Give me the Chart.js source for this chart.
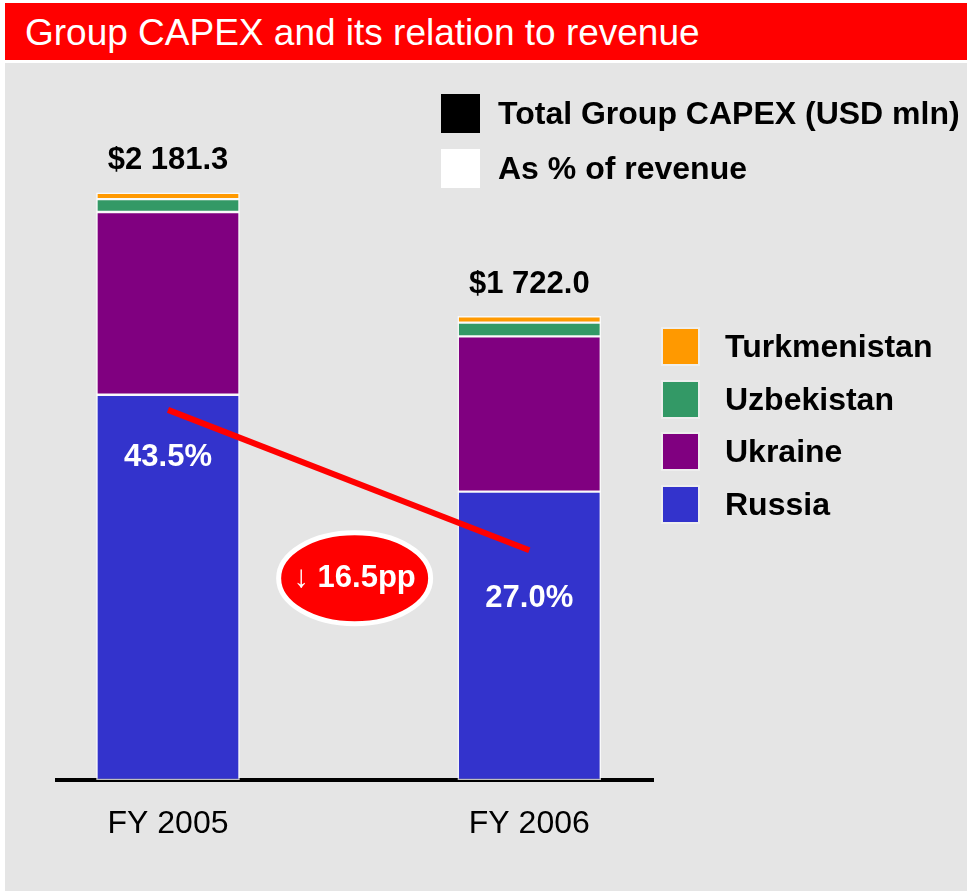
<!DOCTYPE html>
<html>
<head>
<meta charset="utf-8">
<script src="https://cdn.jsdelivr.net/npm/chart.js@4"></script>
<style>
	body { margin: 0; background: #fff; font-family: "Liberation Sans", Arial, sans-serif; }
	#wrap { position: relative; width: 967px; height: 891px; overflow: hidden; }
	#grafico { position: absolute; left: 0; top: 0; }
	.titulo { position: absolute; left: 5px; top: 3px; width: 962px; height: 57px; background: #ff0000;
		color: #fff; font-size: 37px; line-height: 37px; }
	.titulo span { position: absolute; left: 20px; top: 11px; white-space: nowrap; }
	.leg { position: absolute; display: flex; align-items: center; font-weight: bold; font-size: 32px; color: #000; white-space: nowrap; }
	.leg i { display: inline-block; flex: none; }
</style>
</head>
<body>
<div id="wrap">
	<canvas id="grafico" width="967" height="891"></canvas>
	<div class="titulo"><span>Group CAPEX and its relation to revenue</span></div>
	<div id="legendaTopo"></div>
	<div id="legendaPaises"></div>
</div>
<script>
const categories = ['FY 2005', 'FY 2006'];
const russia = [1431.0, 1071.0];
const ukraine = [679.0, 577.0];
const uzbekistan = [48.0, 51.0];
const turkmenistan = [23.3, 23.0];
const capexTotal = [2181.3, 1722.0];
const capexPctRevenue = [43.5, 27.0];

const FONTE = '"Liberation Sans", Arial, sans-serif';

document.addEventListener('DOMContentLoaded', function () {
	const ctx = document.getElementById('grafico').getContext('2d');

	const paises = [
		{ label: 'Russia', data: russia, cor: '#3333cc' },
		{ label: 'Ukraine', data: ukraine, cor: '#800080' },
		{ label: 'Uzbekistan', data: uzbekistan, cor: '#339966' },
		{ label: 'Turkmenistan', data: turkmenistan, cor: '#ff9900' },
	];

	// legendas em html
	const topo = document.getElementById('legendaTopo');
	[['Total Group CAPEX (USD mln)', '#000', 94], ['As % of revenue', '#fff', 149]].forEach(function (l) {
		const d = document.createElement('div');
		d.className = 'leg';
		d.style.left = '441px';
		d.style.top = l[2] + 'px';
		d.innerHTML = '<i style="width:39px;height:39px;background:' + l[1] + ';margin-right:18px"></i><span>' + l[0] + '</span>';
		topo.appendChild(d);
	});
	const leg = document.getElementById('legendaPaises');
	paises.slice().reverse().forEach(function (p, i) {
		const d = document.createElement('div');
		d.className = 'leg';
		d.style.left = '663px';
		d.style.top = (328 + i * 52.7) + 'px';
		d.innerHTML = '<i style="width:35px;height:35px;background:' + p.cor + ';box-shadow:0 0 0 2px rgba(255,255,255,0.35);margin-right:27px"></i><span>' + p.label + '</span>';
		leg.appendChild(d);
	});

	const fundo = {
		id: 'fundo',
		beforeDraw(chart) {
			const c = chart.ctx;
			c.save();
			c.fillStyle = '#ffffff';
			c.fillRect(0, 0, chart.width, chart.height);
			c.fillStyle = '#e5e5e5';
			c.fillRect(5, 63, chart.width - 5, chart.height - 63);
			c.restore();
		},
	};

	function formata(v) {
		return '$' + v.toFixed(1).replace(/\B(?=(\d{3})+(?!\d))/g, ' ');
	}

	const rotulos = {
		id: 'rotulos',
		afterDatasetsDraw(chart) {
			const c = chart.ctx;
			const x = chart.scales.x, y = chart.scales.y, y2 = chart.scales.y2;
			c.save();
			c.textAlign = 'center';
			c.textBaseline = 'middle';
			c.font = 'bold 31px ' + FONTE;
			capexTotal.forEach(function (t, i) {
				c.fillStyle = '#000';
				c.fillText(formata(t), x.getPixelForValue(i), y.getPixelForValue(t) - 32);
			});
			capexPctRevenue.forEach(function (p, i) {
				c.fillStyle = '#fff';
				c.fillText(p.toFixed(1) + '%', x.getPixelForValue(i), y2.getPixelForValue(p) + 48);
			});

			// selo com a queda
			const cx = (x.getPixelForValue(0) + x.getPixelForValue(1)) / 2 + 6;
			const cy = y2.getPixelForValue(capexPctRevenue[1]) + 28;
			c.beginPath();
			c.ellipse(cx, cy, 76, 45.5, 0, 0, Math.PI * 2);
			c.fillStyle = '#ff0000';
			c.fill();
			c.lineWidth = 5;
			c.strokeStyle = '#ffffff';
			c.stroke();

			const queda = (capexPctRevenue[0] - capexPctRevenue[1]).toFixed(1) + 'pp';
			c.font = '31px ' + FONTE;
			const seta = '\u2193 ';
			const ws = c.measureText(seta).width;
			c.font = 'bold 31px ' + FONTE;
			const wq = c.measureText(queda).width;
			const x0 = cx - (ws + wq) / 2;
			c.textAlign = 'left';
			c.fillStyle = '#fff';
			c.font = '31px ' + FONTE;
			c.fillText(seta, x0, cy);
			c.font = 'bold 31px ' + FONTE;
			c.fillText(queda, x0 + ws, cy);
			c.restore();
		},
	};

	const datasets = paises.map(function (p) {
		return {
			type: 'bar',
			label: p.label,
			data: p.data.map(function (v, i) { return { x: i, y: v }; }),
			backgroundColor: p.cor,
			borderColor: 'rgba(255,255,255,0.75)',
			borderWidth: 1.5,
			borderSkipped: false,
			barThickness: 143,
			yAxisID: 'y',
			stack: 'capex',
			order: 2,
		};
	});
	datasets.push({
		type: 'line',
		label: 'As % of revenue',
		data: capexPctRevenue.map(function (v, i) { return { x: i, y: v }; }),
		borderColor: '#ff0000',
		borderWidth: 6,
		pointRadius: 0,
		yAxisID: 'y2',
		stack: 'pct',
		order: 1,
	});

	const config = {
		type: 'bar',
		data: { datasets: datasets },
		options: {
			responsive: false,
			animation: false,
			layout: { padding: { left: 57, right: 314, top: 107, bottom: 22.6 } },
			plugins: {
				legend: { display: false },
				tooltip: { enabled: false },
			},
			scales: {
				x: {
					type: 'linear',
					stacked: true,
					offset: false,
					min: -0.3072,
					max: 1.3424,
					grid: { display: false, drawTicks: false, offset: false },
					border: { display: true, color: '#000', width: 4 },
					afterBuildTicks: function (axis) {
						axis.ticks = categories.map(function (c, i) { return { value: i }; });
					},
					ticks: {
						padding: 25,
						color: '#000',
						font: { size: 32, family: FONTE },
						callback: function (v) { return categories[v]; },
					},
				},
				y: {
					stacked: true,
					display: false,
					min: 0,
					max: 2500,
				},
				y2: {
					display: false,
					min: 0,
					max: 79.1,
				},
			},
		},
		plugins: [fundo, rotulos],
	};

	new Chart(ctx, config);
});
</script>
</body>
</html>
